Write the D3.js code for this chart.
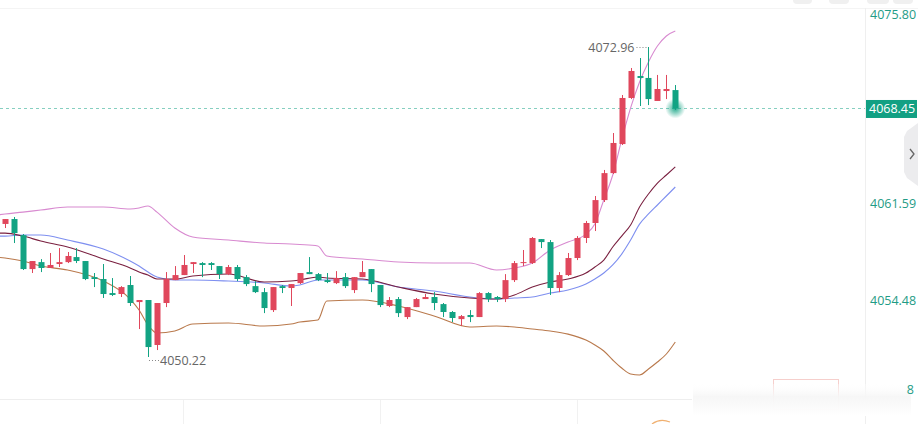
<!DOCTYPE html>
<html>
<head>
<meta charset="utf-8">
<script src="https://cdn.jsdelivr.net/npm/d3@7"></script>
<style>
  body { margin: 0; background: #fff; }
  svg { display: block; font-family: "Open Sans", "Noto Sans", sans-serif; }
</style>
</head>
<body>
<svg width="918" height="424"></svg>
<script>
// candle data (one entry per bar, left to right)
var open = [4059.98, 4060.34, 4059.16, 4056.67, 4057.18, 4056.75, 4057.04, 4057.18, 4057.55, 4057.26,
  4056.08, 4055.94, 4054.91, 4054.84, 4055.50, 4054.25, 4054.40, 4051.10, 4054.18, 4055.86,
  4056.23, 4057.04, 4057.11, 4057.11, 4056.89, 4056.30, 4056.82, 4056.08, 4055.42, 4054.98,
  4053.66, 4055.42, 4055.28, 4055.64, 4056.45, 4056.30, 4055.86, 4055.64, 4056.08, 4055.13,
  4056.08, 4056.67, 4055.50, 4053.96, 4054.47, 4053.15, 4053.88, 4054.47, 4054.62, 4054.10,
  4053.52, 4053.00, 4053.30, 4053.15, 4054.91, 4054.62, 4054.47, 4055.86, 4057.11, 4057.11,
  4058.87, 4058.65, 4055.28, 4056.23, 4057.48, 4058.95, 4060.05, 4061.73, 4063.71, 4065.84,
  4069.22, 4070.83, 4070.69, 4069.00, 4069.73, 4069.80];

var high = [4060.34, 4060.49, 4059.24, 4057.26, 4057.40, 4057.85, 4058.21, 4057.92, 4058.21, 4057.26,
  4056.38, 4057.04, 4056.01, 4055.42, 4056.16, 4054.40, 4054.40, 4054.18, 4056.45, 4056.89,
  4057.70, 4057.18, 4057.18, 4057.18, 4056.89, 4056.97, 4056.97, 4056.23, 4055.79, 4055.28,
  4055.35, 4055.50, 4055.57, 4056.38, 4057.55, 4056.38, 4056.38, 4056.52, 4056.38, 4056.08,
  4057.26, 4056.67, 4055.50, 4054.62, 4054.62, 4053.88, 4054.55, 4054.84, 4054.98, 4054.18,
  4053.59, 4053.30, 4053.66, 4054.98, 4054.98, 4054.69, 4056.30, 4057.26, 4058.07, 4059.02,
  4058.87, 4058.80, 4056.45, 4057.85, 4059.09, 4060.20, 4062.03, 4063.94, 4066.65, 4069.44,
  4071.42, 4072.15, 4072.96, 4070.91, 4070.91, 4070.17];

var low = [4059.68, 4058.58, 4056.60, 4056.38, 4056.45, 4056.75, 4056.82, 4057.11, 4057.11, 4055.86,
  4055.35, 4054.55, 4054.69, 4054.62, 4053.96, 4052.27, 4050.22, 4050.73, 4053.88, 4055.86,
  4056.23, 4056.38, 4056.08, 4056.60, 4055.94, 4056.23, 4055.79, 4055.42, 4054.91, 4053.44,
  4053.52, 4054.91, 4053.96, 4055.57, 4056.30, 4055.79, 4055.64, 4055.57, 4055.28, 4054.91,
  4056.08, 4054.98, 4053.88, 4053.88, 4053.15, 4053.00, 4053.88, 4054.47, 4053.66, 4053.15,
  4052.78, 4052.49, 4052.78, 4053.15, 4054.25, 4054.25, 4054.25, 4055.72, 4056.89, 4057.04,
  4058.21, 4054.77, 4054.98, 4056.16, 4057.33, 4058.58, 4059.46, 4061.59, 4063.64, 4065.77,
  4069.14, 4068.63, 4068.70, 4069.00, 4069.14, 4068.34];

var close = [4060.34, 4059.31, 4056.67, 4057.26, 4056.75, 4056.97, 4057.18, 4057.63, 4057.26, 4055.94,
  4055.94, 4054.84, 4054.77, 4055.35, 4054.18, 4054.40, 4050.95, 4054.18, 4055.94, 4056.23,
  4056.97, 4057.18, 4056.97, 4056.97, 4056.30, 4056.82, 4055.94, 4055.57, 4054.98, 4053.81,
  4055.35, 4055.28, 4055.57, 4056.38, 4056.30, 4055.86, 4055.72, 4056.01, 4055.42, 4056.08,
  4056.45, 4055.57, 4054.03, 4054.40, 4053.44, 4053.88, 4054.47, 4054.62, 4054.18, 4053.52,
  4053.08, 4053.22, 4053.15, 4054.91, 4054.47, 4054.47, 4055.86, 4057.11, 4057.18, 4058.95,
  4058.65, 4055.28, 4056.23, 4057.48, 4058.95, 4060.05, 4061.73, 4063.71, 4065.92, 4069.22,
  4071.20, 4070.69, 4069.14, 4069.88, 4069.88, 4068.45];

// indicator lines, sampled at these bar indexes
var lineIdx = [-1, 0, 2, 4, 7, 11, 14, 15, 16, 17, 19, 21, 25, 29, 32, 33, 35, 36, 40, 44,
  48, 52, 55, 57, 59, 61, 63, 65, 66, 67, 68, 69, 70, 71, 72, 73, 74, 75];

var bollUpper = [4060.63, 4060.71, 4060.85, 4061.00, 4061.22, 4061.22, 4061.08, 4061.15, 4061.30, 4060.85,
  4059.68, 4059.02, 4058.80, 4058.58, 4058.51, 4058.47, 4058.36, 4057.63, 4057.41, 4057.19,
  4057.11, 4057.11, 4056.60, 4056.75, 4057.11, 4058.07, 4058.65, 4059.24, 4059.97, 4061.74,
  4063.57, 4066.14, 4068.49, 4070.39, 4071.86, 4073.03, 4073.77, 4074.13];

var bollMid = [4059.31, 4059.31, 4059.09, 4058.73, 4058.29, 4057.41, 4056.75, 4056.45, 4056.23, 4055.94,
  4055.94, 4056.16, 4056.31, 4055.72, 4055.79, 4055.87, 4056.09, 4056.01, 4055.94, 4055.35,
  4054.84, 4054.55, 4054.47, 4054.77, 4055.35, 4055.72, 4055.94, 4056.38, 4056.82, 4057.33,
  4058.29, 4059.09, 4059.90, 4061.22, 4062.18, 4062.98, 4063.57, 4064.16];

var bollLower = [4057.55, 4057.48, 4057.26, 4056.89, 4056.60, 4055.79, 4054.47, 4053.67, 4052.57, 4051.98,
  4052.13, 4052.64, 4052.71, 4052.49, 4052.64, 4052.79, 4052.93, 4054.33, 4054.40, 4053.96,
  4053.23, 4052.42, 4052.49, 4052.42, 4052.27, 4052.13, 4051.90, 4051.46, 4051.10, 4050.66,
  4050.00, 4049.41, 4048.97, 4048.90, 4049.34, 4049.85, 4050.44, 4051.32];

var maLine = [4059.09, 4059.09, 4059.17, 4059.17, 4058.80, 4058.14, 4057.26, 4056.89, 4056.45, 4056.09,
  4055.87, 4055.87, 4055.79, 4055.65, 4055.43, 4055.50, 4055.87, 4055.87, 4055.87, 4055.35,
  4055.06, 4054.62, 4054.47, 4054.55, 4054.62, 4054.91, 4055.13, 4055.57, 4055.94, 4056.38,
  4056.97, 4057.77, 4058.80, 4059.97, 4060.71, 4061.37, 4062.03, 4062.69];

// price axis labels and last price
var tickLabels = [4075.80, 4061.59, 4054.48];
var lastPrice = 4068.45;

var upColor = "#e0475c";
var downColor = "#12a383";

var svg = d3.select("svg");
var W = 918, H = 424;
var plotRight = 865;

// x is the bar index, y is the price
var x = d3.scaleLinear().domain([0, 75]).range([5, 675.3]);
var y = d3.scaleLinear().domain([4050.22, 4072.96]).range([357, 47]);
var barW = 6;

var candles = open.map(function(o, i) {
  return { i: i, o: o, h: high[i], l: low[i], c: close[i] };
});

// frame lines
svg.append("line").attr("x1", 0).attr("x2", W).attr("y1", 8.5).attr("y2", 8.5)
  .attr("stroke", "#f4f4f4");
svg.append("line").attr("x1", plotRight + 0.5).attr("x2", plotRight + 0.5).attr("y1", 8).attr("y2", H)
  .attr("stroke", "#efefef");
svg.append("line").attr("x1", 0).attr("x2", 692).attr("y1", 399.5).attr("y2", 399.5)
  .attr("stroke", "#eeeeee");
[183, 380, 577].forEach(function(gx) {
  svg.append("line").attr("x1", gx + 0.5).attr("x2", gx + 0.5).attr("y1", 400).attr("y2", H)
    .attr("stroke", "#f1f1f1");
});

// top-right toolbar stubs
[[793, 19], [829, 20], [867, 22], [893, 20]].forEach(function(b) {
  svg.append("rect").attr("x", b[0]).attr("y", -6).attr("width", b[1]).attr("height", 10)
    .attr("rx", 4).attr("fill", "#f0f0f0");
});

var plot = svg.append("g").attr("id", "plot");

// last price dashed line
plot.append("line")
  .attr("x1", 0).attr("x2", plotRight)
  .attr("y1", Math.round(y(lastPrice)) + 0.5).attr("y2", Math.round(y(lastPrice)) + 0.5)
  .attr("stroke", "#86cfc0").attr("stroke-dasharray", "3,3");

// indicator lines
var lineGen = function(vals) {
  return d3.line()
    .x(function(d, k) { return x(lineIdx[k]); })
    .y(function(d) { return y(d); })
    .curve(d3.curveMonotoneX)(vals);
};
[[bollUpper, "#d88ad0"], [bollLower, "#b9794c"], [maLine, "#7e8ff0"], [bollMid, "#7a2040"]]
  .forEach(function(s) {
    plot.append("path").attr("d", lineGen(s[0]))
      .attr("fill", "none").attr("stroke", s[1]).attr("stroke-width", 1.1);
  });

// glow behind the last bar
var defs = svg.append("defs");
var grad = defs.append("radialGradient").attr("id", "glow");
grad.append("stop").attr("offset", "0%").attr("stop-color", "#12a383").attr("stop-opacity", 0.9);
grad.append("stop").attr("offset", "45%").attr("stop-color", "#12a383").attr("stop-opacity", 0.5);
grad.append("stop").attr("offset", "100%").attr("stop-color", "#12a383").attr("stop-opacity", 0);
plot.append("circle")
  .attr("cx", x(75)).attr("cy", y(lastPrice))
  .attr("r", 10).attr("fill", "url(#glow)");

// candles: wicks then bodies
var bars = plot.selectAll("g.candle").data(candles).enter().append("g")
  .attr("class", "candle");

bars.append("line")
  .attr("x1", function(d) { return Math.round(x(d.i)) + 0.5; })
  .attr("x2", function(d) { return Math.round(x(d.i)) + 0.5; })
  .attr("y1", function(d) { return y(d.h); })
  .attr("y2", function(d) { return y(d.l); })
  .attr("stroke", function(d) { return d.c >= d.o ? upColor : downColor; });

bars.append("rect")
  .attr("x", function(d) { return Math.round(x(d.i)) + 0.5 - barW / 2; })
  .attr("width", barW)
  .attr("y", function(d) { return y(Math.max(d.o, d.c)); })
  .attr("height", function(d) { return Math.max(1, Math.abs(y(d.o) - y(d.c))); })
  .attr("fill", function(d) { return d.c >= d.o ? upColor : downColor; });

// high / low markers
var hiIdx = d3.maxIndex(high), loIdx = d3.minIndex(low);
plot.append("line")
  .attr("x1", x(hiIdx) - 12).attr("x2", x(hiIdx))
  .attr("y1", y(high[hiIdx]) + 0.5).attr("y2", y(high[hiIdx]) + 0.5)
  .attr("stroke", "#888").attr("stroke-dasharray", "1,2");
plot.append("text")
  .attr("x", x(hiIdx) - 14).attr("y", y(high[hiIdx]) + 2)
  .attr("text-anchor", "end").attr("dominant-baseline", "middle")
  .attr("font-size", 12.5).attr("fill", "#666")
  .text(high[hiIdx].toFixed(2));
plot.append("line")
  .attr("x1", x(loIdx) + 1).attr("x2", x(loIdx) + 11)
  .attr("y1", y(low[loIdx]) + 3.5).attr("y2", y(low[loIdx]) + 3.5)
  .attr("stroke", "#888").attr("stroke-dasharray", "1,2");
plot.append("text")
  .attr("x", x(loIdx) + 12).attr("y", y(low[loIdx]) + 5)
  .attr("text-anchor", "start").attr("dominant-baseline", "middle")
  .attr("font-size", 12.5).attr("fill", "#666")
  .text(low[loIdx].toFixed(2));

// price axis on the right
var axis = svg.append("g").attr("id", "y-axis");
axis.selectAll("text.tick").data(tickLabels).enter().append("text")
  .attr("class", "tick")
  .attr("x", 870)
  .attr("y", function(d) { return Math.max(16, y(d) + 3); })
  .attr("dominant-baseline", "middle")
  .attr("font-size", 12.5).attr("fill", "#1f9c86")
  .text(function(d) { return d.toFixed(2); });

axis.append("rect")
  .attr("x", 866).attr("y", y(lastPrice) - 8.5)
  .attr("width", 51).attr("height", 18)
  .attr("fill", "#12a083");
axis.append("text")
  .attr("x", 869).attr("y", y(lastPrice) + 1)
  .attr("dominant-baseline", "middle")
  .attr("font-size", 12.5).attr("fill", "#fff")
  .text(lastPrice.toFixed(2));

// side tab with chevron
svg.append("path")
  .attr("d", "M918,123 L907,131 L904,137 L904,172 L907,178 L918,186 Z")
  .attr("fill", "#ececee");
svg.append("path")
  .attr("d", "M910,149 L914,154 L910,159")
  .attr("fill", "none").attr("stroke", "#666").attr("stroke-width", 1.3);

// volume panel leftovers at the bottom
svg.append("rect").attr("x", 773.5).attr("y", 379.5).attr("width", 65).attr("height", 30)
  .attr("fill", "none").attr("stroke", "#f6cfcc");
var fade = defs.append("linearGradient").attr("id", "fade").attr("x1", 0).attr("x2", 0).attr("y1", 0).attr("y2", 1);
fade.append("stop").attr("offset", "0%").attr("stop-color", "#fff").attr("stop-opacity", 0.3);
fade.append("stop").attr("offset", "40%").attr("stop-color", "#f6f6f6").attr("stop-opacity", 0.95);
fade.append("stop").attr("offset", "100%").attr("stop-color", "#fff").attr("stop-opacity", 1);
svg.append("rect").attr("x", 693).attr("y", 384).attr("width", 218).attr("height", 32)
  .attr("fill", "url(#fade)");
svg.append("text").attr("x", 914).attr("y", 391)
  .attr("text-anchor", "end").attr("dominant-baseline", "middle")
  .attr("font-size", 12.5).attr("fill", "#1f9c86").text("8");
svg.append("path").attr("d", "M652,424 Q660,418 670,422")
  .attr("fill", "none").attr("stroke", "#f0b070").attr("stroke-width", 1.2);
</script>
</body>
</html>
